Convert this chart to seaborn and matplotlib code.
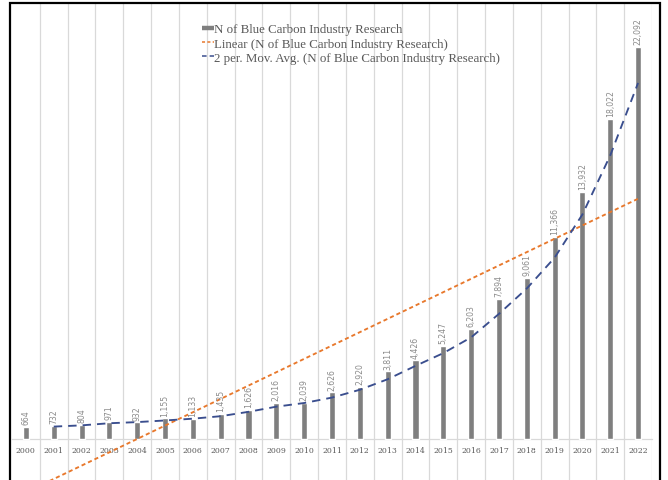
import numpy as np
import pandas as pd
import matplotlib
matplotlib.use("Agg")
import matplotlib.pyplot as plt
from matplotlib.lines import Line2D
from matplotlib.patches import Rectangle
import seaborn as sns

# Publication counts per year
years = [str(y) for y in range(2000, 2023)]
counts = [664, 732, 804, 971, 932, 1155, 1133, 1435, 1626, 2016, 2039, 2626,
          2920, 3811, 4426, 5247, 6203, 7894, 9061, 11366, 13932, 18022, 22092]
series_labels = [
    "N of Blue Carbon Industry Research",
    "Linear (N of Blue Carbon Industry Research)",
    "2 per. Mov. Avg. (N of Blue Carbon Industry Research)",
]

df = pd.DataFrame({"year": years, "n": counts})

sns.set_theme(style="white")
plt.rcParams["font.family"] = ["DejaVu Sans"]

W, H = 668, 481
fig = plt.figure(figsize=(W / 100, H / 100), dpi=100)

# plot area in pixel terms: x 12..652, y 4..490 (baseline ends up near y=440)
px_left, px_right, px_top, px_bottom = 12, 652, 4, 490
ax = fig.add_axes([px_left / W, (H - px_bottom) / H,
                   (px_right - px_left) / W, (px_bottom - px_top) / H])

bar_color = "#7f7f7f"
sns.barplot(data=df, x="year", y="n", color=bar_color, width=0.22,
            saturation=1, ax=ax, zorder=3)

# trendlines
idx = np.arange(len(counts))
vals = np.array(counts, dtype=float)
slope, intercept = np.polyfit(idx, vals, 1)
lin = slope * idx + intercept
mov = pd.Series(vals).rolling(2).mean()

sns.lineplot(x=idx, y=lin, ax=ax, color="#E8782C", linewidth=1.35,
             linestyle=(0, (2.2, 1.6)), zorder=4)
sns.lineplot(x=idx[1:], y=mov.values[1:], ax=ax, color="#3A4E8E",
             linewidth=1.35, linestyle=(0, (4.5, 3.2)), zorder=4)

# value labels above bars
for i, v in enumerate(counts):
    ax.annotate(f"{v:,}", xy=(i, v), xytext=(0, 2), textcoords="offset points",
                rotation=90, ha="center", va="bottom", fontsize=5.6,
                color="#8a8a8a", family=["Liberation Sans Narrow", "DejaVu Sans"],
                zorder=5)

ax.set_xlim(-0.5, len(years) - 0.5)
ax.set_ylim(-2817, 24560)
ax.set_xlabel("")
ax.set_ylabel("")
ax.set_yticks([])

# vertical gridlines between categories
ax.set_xticks(np.arange(len(years)) + 0.5, minor=True)
ax.grid(True, which="minor", axis="x", color="#d9d9d9", linewidth=0.9)
ax.grid(False, which="major")
ax.set_axisbelow(True)

for s in ["left", "top", "right"]:
    ax.spines[s].set_visible(False)
ax.spines["bottom"].set_position(("data", 0))
ax.spines["bottom"].set_color("#d9d9d9")
ax.spines["bottom"].set_linewidth(0.9)
ax.tick_params(axis="x", which="both", length=0, pad=5, labelsize=5.6,
               labelcolor="#595959")
for t in ax.get_xticklabels():
    t.set_family(["DejaVu Serif"])

# legend
handles = [
    Line2D([0], [0], color=bar_color, linewidth=3.2, solid_capstyle="butt"),
    Line2D([0], [0], color="#E8782C", linewidth=1.1, linestyle=(0, (2, 1.5))),
    Line2D([0], [0], color="#3A4E8E", linewidth=1.1, linestyle=(0, (3, 2))),
]
leg = fig.legend(handles, series_labels, loc="upper left",
                 bbox_to_anchor=(196 / W, 1 - 18 / H), bbox_transform=fig.transFigure,
                 frameon=False, handlelength=0.88, handletextpad=0.05,
                 labelspacing=0.16, borderpad=0,
                 prop={"family": ["Liberation Serif"], "size": 9.3})
for t in leg.get_texts():
    t.set_color("#595959")

# black outer frame
frame = Rectangle((10 / W, -0.05), (660 - 10) / W, 1.05 - 3.5 / H,
                  transform=fig.transFigure, fill=False, edgecolor="black",
                  linewidth=1.6, clip_on=False, zorder=10)
fig.patches.append(frame)

fig.savefig("out.png", dpi=100)
